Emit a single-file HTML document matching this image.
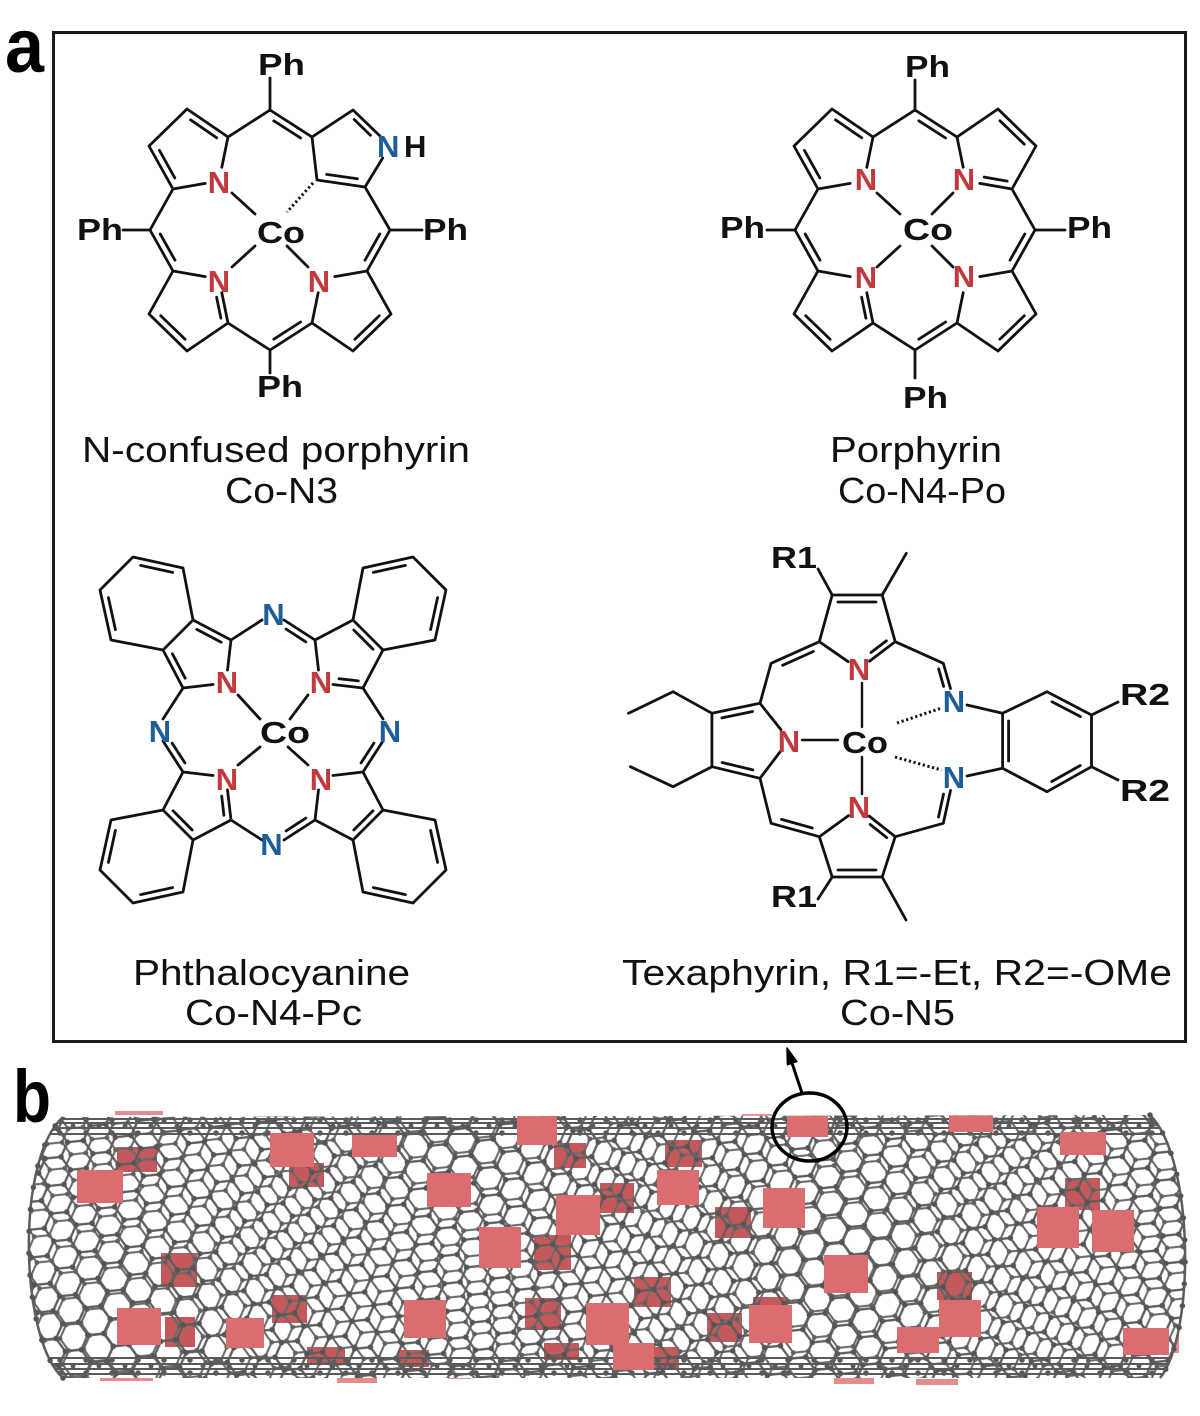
<!DOCTYPE html>
<html>
<head>
<meta charset="utf-8">
<style>
html,body{margin:0;padding:0;background:#fff;}
svg{display:block;}
.b{stroke:#111;stroke-width:2.8;fill:none;stroke-linecap:round;stroke-linejoin:round}
.lb{font-family:"Liberation Sans",Arial,sans-serif;font-weight:bold;font-size:31px;fill:#111}
.r{fill:#c1393d}
.u{fill:#1b5e9a}
.cap{font-family:"Liberation Sans",Arial,sans-serif;font-size:36px;fill:#111}
</style>
</head>
<body>
<svg xmlns="http://www.w3.org/2000/svg" xmlns:xlink="http://www.w3.org/1999/xlink" width="1200" height="1416" viewBox="0 0 1200 1416">
<defs>
  <pattern id="hA" width="27.7" height="48" patternUnits="userSpaceOnUse" patternTransform="rotate(24)">
    <path d="M0,8 L13.86,0 L27.7,8 M0,8 V24 M27.7,8 V24 M0,24 L13.86,32 L27.7,24 M13.86,32 V48" stroke="#5e5e5e" stroke-width="2.4" fill="none"/>
    <g fill="#555"><circle cx="0" cy="8" r="2.8"/><circle cx="13.86" cy="0" r="2.8"/><circle cx="27.7" cy="8" r="2.8"/><circle cx="0" cy="24" r="2.8"/><circle cx="27.7" cy="24" r="2.8"/><circle cx="13.86" cy="32" r="2.8"/><circle cx="13.86" cy="48" r="2.8"/></g>
  </pattern>
  <pattern id="hB" width="26" height="45" patternUnits="userSpaceOnUse" patternTransform="translate(7,5) rotate(-36)">
    <path d="M0,7.5 L13,0 L26,7.5 M0,7.5 V22.5 M26,7.5 V22.5 M0,22.5 L13,30 L26,22.5 M13,30 V45" stroke="#6a6a6a" stroke-width="2.1" fill="none"/>
    <g fill="#606060"><circle cx="0" cy="7.5" r="2.4"/><circle cx="13" cy="0" r="2.4"/><circle cx="26" cy="7.5" r="2.4"/><circle cx="0" cy="22.5" r="2.4"/><circle cx="26" cy="22.5" r="2.4"/><circle cx="13" cy="30" r="2.4"/><circle cx="13" cy="45" r="2.4"/></g>
  </pattern>
  <clipPath id="tube">
    <path d="M63,1117 L1150,1115 C1195,1160 1195,1335 1160,1378 L63,1378 C20,1340 15,1160 63,1117 Z"/>
  </clipPath>
  <g id="pcu">
    <path d="M-11,-110 L-42,-90 L-80,-110 L-110,-80 L-90,-42 L-110,-11 M-80,-110 L-90,-162 L-140,-173 L-173,-140 L-162,-90 L-110,-80 M-42,-90 L-45.5,-59.9 M-90,-42 L-59.9,-45.5"/>
  </g>
</defs>

<!-- Panel labels and frame -->
<text x="5" y="72" font-family="Liberation Sans, Arial, sans-serif" font-weight="bold" font-size="76" fill="#000" textLength="39" lengthAdjust="spacingAndGlyphs">a</text>
<text x="13" y="1122" font-family="Liberation Sans, Arial, sans-serif" font-weight="bold" font-size="74" fill="#000" textLength="38" lengthAdjust="spacingAndGlyphs">b</text>
<rect x="53.5" y="32.5" width="1132" height="1009" fill="none" stroke="#1a1a1a" stroke-width="3"/>

<!-- Structure 1: N-confused porphyrin -->
<g transform="translate(270,230)" class="b">
  <path d="M0,-120 L-42,-93 L-83,-121 L-121,-84 L-97,-41 L-120,0 L-97,41 L-121,84 L-83,121 L-42,93 L0,120 L42,93 L83,121 L121,84 L97,41 L120,0 L95,-43 L47,-50 L42,-93 Z"/>
  <path d="M42,-93 L83,-120 L110,-94 M112.7,-72 L95,-43"/>
  <path d="M-42,-93 L-48.2,-62.7 M-97,-41 L-64.8,-46.6 M-97,41 L-64.8,46.6 M-42,93 L-48.2,62.7 M97,41 L64.8,46.6 M42,93 L48.2,62.7"/>
  <path d="M-38,-37 L-15,-16 M-38,37 L-15,16 M38,37 L17,16"/>
  <path d="M0,-152 L0,-120 M-147,0 L-120,0 M120,0 L152,0 M0,120 L0,143"/>
  <path d="M3.8,-109.2 L30.6,-92 M-53.3,-92.2 L-79.5,-110.2 M-110.6,-79.7 L-95.2,-52.1 M-95,30.2 L-109.8,4 M-84.9,109.3 L-109.3,85.7 M-53.4,67.2 L-49.1,88.2 M30.6,92 L3.8,109.2 M109.3,85.7 L84.9,109.3 M109.8,4 L95,30.2 M84.2,-110.5 L100.4,-94.7 M87.4,-51.2 L56.6,-55.6"/>
  <path d="M43,-47 L17,-18" stroke-dasharray="2.2 2.6" stroke-width="3" stroke-linecap="butt"/>
</g>
<text class="lb r" x="219" y="193" text-anchor="middle">N</text>
<text class="lb r" x="219" y="292" text-anchor="middle">N</text>
<text class="lb r" x="319" y="292" text-anchor="middle">N</text>
<text class="lb u" x="377" y="157">N</text>
<text class="lb" x="404" y="157">H</text>
<text class="lb" x="257" y="243" textLength="48" lengthAdjust="spacingAndGlyphs">Co</text>
<text class="lb" x="258" y="75" textLength="47" lengthAdjust="spacingAndGlyphs">Ph</text>
<text class="lb" x="77" y="240" textLength="46" lengthAdjust="spacingAndGlyphs">Ph</text>
<text class="lb" x="423" y="240" textLength="45" lengthAdjust="spacingAndGlyphs">Ph</text>
<text class="lb" x="257" y="397" textLength="46" lengthAdjust="spacingAndGlyphs">Ph</text>
<text class="cap" x="82" y="462" textLength="388" lengthAdjust="spacingAndGlyphs">N-confused porphyrin</text>
<text class="cap" x="225" y="503" textLength="113" lengthAdjust="spacingAndGlyphs">Co-N3</text>

<!-- Structure 2: Porphyrin -->
<g transform="translate(915,230)" class="b">
  <path d="M0,-120 L-42,-93 L-83,-121 L-121,-84 L-97,-41 L-120,0 L-97,41 L-121,84 L-83,121 L-42,93 L0,120 L42,93 L83,121 L121,84 L97,41 L120,0 L97,-41 L121,-84 L83,-121 L42,-93 Z"/>
  <path d="M-42,-93 L-48.2,-62.7 M-97,-41 L-64.8,-46.6 M-97,41 L-64.8,46.6 M-42,93 L-48.2,62.7 M97,41 L64.8,46.6 M42,93 L48.2,62.7 M42,-93 L48.2,-62.7 M97,-41 L64.8,-46.6"/>
  <path d="M-38,-37 L-15,-16 M38,-37 L17,-16 M-38,37 L-15,16 M38,37 L17,16"/>
  <path d="M0,-150 L0,-120 M-148,0 L-120,0 M120,0 L150,0 M0,120 L0,148"/>
  <path d="M3.8,-109.2 L30.6,-92 M-53.3,-92.2 L-79.5,-110.2 M-110.6,-79.7 L-95.2,-52.1 M84.9,-109.3 L109.3,-85.7 M69.2,-52.9 L92.2,-48.9 M109.8,4 L95,30.2 M109.3,85.7 L84.9,109.3 M30.6,92 L3.8,109.2 M-53.4,67.2 L-49.1,88.2 M-84.9,109.3 L-109.3,85.7 M-95,30.2 L-109.8,4"/>
</g>
<text class="lb r" x="866" y="190" text-anchor="middle">N</text>
<text class="lb r" x="964" y="190" text-anchor="middle">N</text>
<text class="lb r" x="866" y="288" text-anchor="middle">N</text>
<text class="lb r" x="964" y="287" text-anchor="middle">N</text>
<text class="lb" x="903" y="240" textLength="50" lengthAdjust="spacingAndGlyphs">Co</text>
<text class="lb" x="905" y="77" textLength="45" lengthAdjust="spacingAndGlyphs">Ph</text>
<text class="lb" x="720" y="238" textLength="45" lengthAdjust="spacingAndGlyphs">Ph</text>
<text class="lb" x="1067" y="238" textLength="45" lengthAdjust="spacingAndGlyphs">Ph</text>
<text class="lb" x="903" y="408" textLength="45" lengthAdjust="spacingAndGlyphs">Ph</text>
<text class="cap" x="830" y="462" textLength="172" lengthAdjust="spacingAndGlyphs">Porphyrin</text>
<text class="cap" x="838" y="503" textLength="168" lengthAdjust="spacingAndGlyphs">Co-N4-Po</text>

<!-- Structure 3: Phthalocyanine -->
<g transform="translate(273,730)" class="b">
  <use href="#pcu" xlink:href="#pcu"/>
  <use href="#pcu" xlink:href="#pcu" transform="rotate(90)"/>
  <use href="#pcu" xlink:href="#pcu" transform="rotate(180)"/>
  <use href="#pcu" xlink:href="#pcu" transform="rotate(270)"/>
  <path d="M-35,-35 L-13,-11 M35,-35 L17,-11 M-35,35 L-13,17 M35,35 L15,17"/>
  <path d="M-51.8,-87.8 L-76.2,-100.6 M-87.8,-51.8 L-100.6,-76.2 M-157.6,-100.4 L-164.6,-132.4 M-100.4,-157.6 L-132.4,-164.6"/>
  <path d="M100.4,-157.6 L132.4,-164.6 M157.6,-100.4 L164.6,-132.4 M100,-80.8 L80.8,-100 M32.9,-88.1 L13.1,-100.9 M66,-51.3 L85.3,-49.1"/>
  <path d="M157.6,100.4 L164.6,132.4 M100.4,157.6 L132.4,164.6 M80.8,100 L100,80.8 M88.1,32.9 L100.9,13.1 M32.9,88.1 L13.1,100.9"/>
  <path d="M-100.4,157.6 L-132.4,164.6 M-157.6,100.4 L-164.6,132.4 M-100,80.8 L-80.8,100 M-88.1,32.9 L-100.9,13.1 M-51.3,66 L-49.1,85.3"/>
</g>
<text class="lb r" x="227" y="693" text-anchor="middle">N</text>
<text class="lb r" x="321" y="693" text-anchor="middle">N</text>
<text class="lb r" x="227" y="790" text-anchor="middle">N</text>
<text class="lb r" x="321" y="790" text-anchor="middle">N</text>
<text class="lb u" x="273.5" y="625" text-anchor="middle">N</text>
<text class="lb u" x="160" y="742" text-anchor="middle">N</text>
<text class="lb u" x="390" y="742" text-anchor="middle">N</text>
<text class="lb u" x="271.5" y="855" text-anchor="middle">N</text>
<text class="lb" x="260" y="743" textLength="50" lengthAdjust="spacingAndGlyphs">Co</text>
<text class="cap" x="133" y="985" textLength="277" lengthAdjust="spacingAndGlyphs">Phthalocyanine</text>
<text class="cap" x="185" y="1025" textLength="177" lengthAdjust="spacingAndGlyphs">Co-N4-Pc</text>

<!-- Structure 4: Texaphyrin -->
<g class="b">
  <path d="M848.2,661.7 L819.3,641.7 L832.2,595 L882.2,595 L895.2,641.7 L869.4,661.2"/>
  <path d="M832.2,595 L818,569 M882.2,595 L906.3,553.3"/>
  <path d="M819.3,641.7 L771.1,663.3 L760,703.3"/>
  <path d="M781,729.8 L760,703.3 L711.9,713.3 L711.9,766.7 L760,778.3 L781.2,750.4"/>
  <path d="M711.9,713.3 L673,691.7 L628.5,713.3 M711.9,766.7 L673,786.7 L630.4,766.7"/>
  <path d="M760,778.3 L771.1,823.3 L819.3,836.7"/>
  <path d="M848.5,815.6 L819.3,836.7 L832.2,877 L882.2,877 L895.2,836.7 L869.2,816.1"/>
  <path d="M832.2,877 L818,899 M882.2,877 L906,920"/>
  <path d="M895.2,641.7 L943.3,663.3 L950.5,688.5 M895.2,836.7 L943.3,823.3 L950.5,790.5"/>
  <path d="M967,705 L1002.6,713.3 M967,776 L1002.6,768.3"/>
  <path d="M1002.6,713.3 L1047,691.7 L1091.5,715 L1091.5,766.7 L1047,791.7 L1002.6,768.3 Z"/>
  <path d="M1091.5,715 L1118,702 M1091.5,766.7 L1118,780"/>
  <path d="M802,740 L838,740 M862,683 L862,727 M862,757 L862,794" stroke-width="2.4"/>
  <path d="M897,723 L941.5,708 M895,757 L941.5,770" stroke-dasharray="2.2 2.6" stroke-width="3" stroke-linecap="butt"/>
  <path d="M838,602 L876,602 M871,652.5 L886.4,640.8 M813.3,651.5 L782.6,665.3 M752.6,711.5 L721.9,717.9 M722.1,762.5 L752.8,769.9 M781.5,819.4 L812.3,828 M838,870 L876,870 M870.2,824.5 L886.8,837.7 M938.6,668.8 L943.6,686.4 M938.5,817.1 L943.5,794.1 M1008.6,721 L1008.6,761 M1052,701.7 L1080.5,716.6 M1080.3,765.5 L1051.8,781.5"/>
</g>
<text class="lb r" x="859" y="680" text-anchor="middle">N</text>
<text class="lb r" x="859" y="818" text-anchor="middle">N</text>
<text class="lb r" x="789" y="752" text-anchor="middle">N</text>
<text class="lb u" x="954" y="712" text-anchor="middle">N</text>
<text class="lb u" x="954" y="788" text-anchor="middle">N</text>
<text class="lb" x="842" y="753" textLength="46" lengthAdjust="spacingAndGlyphs">Co</text>
<text class="lb" x="771" y="568" textLength="46" lengthAdjust="spacingAndGlyphs">R1</text>
<text class="lb" x="771" y="907" textLength="46" lengthAdjust="spacingAndGlyphs">R1</text>
<text class="lb" x="1120" y="705" textLength="50" lengthAdjust="spacingAndGlyphs">R2</text>
<text class="lb" x="1120" y="801" textLength="50" lengthAdjust="spacingAndGlyphs">R2</text>
<text class="cap" x="622" y="985" textLength="550" lengthAdjust="spacingAndGlyphs">Texaphyrin, R1=-Et, R2=-OMe</text>
<text class="cap" x="840" y="1025" textLength="115" lengthAdjust="spacingAndGlyphs">Co-N5</text>

<!-- Panel b: nanotube -->
<g fill="#e58d8e">
  <rect x="115" y="1111" width="48" height="4"/><rect x="257" y="1116" width="38" height="5"/>
  <rect x="100" y="1376" width="53" height="5"/><rect x="337" y="1378" width="40" height="5"/>
  <rect x="448" y="1375" width="23" height="4"/><rect x="834" y="1378" width="40" height="6"/>
  <rect x="916" y="1379" width="42" height="6"/><rect x="742" y="1114" width="30" height="4"/>
  <rect x="1171" y="1330" width="8" height="23"/>
</g>
<g clip-path="url(#tube)">
  <rect x="0" y="1100" width="1200" height="300" fill="#fff"/>
  <g fill="#c5585b">
    <rect x="117" y="1147" width="40" height="25"/><rect x="289" y="1163" width="35" height="24"/>
    <rect x="554" y="1143" width="32" height="25"/><rect x="534" y="1235" width="37" height="35"/>
    <rect x="161" y="1253" width="36" height="34"/><rect x="165" y="1317" width="30" height="30"/>
    <rect x="272" y="1295" width="35" height="28"/><rect x="525" y="1298" width="36" height="32"/>
    <rect x="307" y="1347" width="38" height="16"/><rect x="398" y="1350" width="31" height="17"/>
    <rect x="544" y="1343" width="35" height="17"/><rect x="665" y="1140" width="37" height="27"/>
    <rect x="600" y="1183" width="34" height="30"/><rect x="715" y="1207" width="36" height="31"/>
    <rect x="1065" y="1178" width="35" height="32"/><rect x="634" y="1277" width="37" height="30"/>
    <rect x="654" y="1347" width="25" height="21"/><rect x="707" y="1313" width="35" height="29"/>
    <rect x="937" y="1272" width="35" height="28"/><rect x="753" y="1297" width="35" height="10"/>
  </g>
  <rect x="0" y="1100" width="1200" height="300" fill="url(#hB)"/>
  <rect x="0" y="1100" width="1200" height="300" fill="url(#hA)"/>
  <g stroke="#5a5a5a" fill="none">
    <path d="M40,1119 H1170 M40,1123 H1170 M40,1128 H1170 M40,1134 H1170 M40,1358 H1170 M40,1364 H1170 M40,1369 H1170 M40,1374 H1170" stroke-width="2"/>
    <path d="M60,1120 H1160 M60,1133 H1160 M60,1360 H1160 M60,1373 H1160" stroke-width="5.5" stroke-linecap="round" stroke-dasharray="0 26"/>
    <path d="M73,1126 H1160 M73,1366 H1160" stroke-width="5" stroke-linecap="round" stroke-dasharray="0 26"/>
  </g>
  <g fill="#dc6d6f">
    <rect x="77" y="1170" width="46" height="33"/><rect x="270" y="1133" width="44" height="34"/>
    <rect x="352" y="1135" width="45" height="22"/><rect x="427" y="1173" width="44" height="34"/>
    <rect x="517" y="1110" width="40" height="35"/><rect x="556" y="1195" width="44" height="40"/>
    <rect x="479" y="1227" width="42" height="41"/><rect x="117" y="1308" width="44" height="37"/>
    <rect x="226" y="1318" width="38" height="30"/><rect x="404" y="1300" width="42" height="38"/>
    <rect x="586" y="1303" width="43" height="42"/><rect x="657" y="1170" width="42" height="35"/>
    <rect x="763" y="1188" width="42" height="40"/><rect x="787" y="1115" width="41" height="22"/>
    <rect x="949" y="1112" width="44" height="20"/><rect x="1060" y="1132" width="46" height="23"/>
    <rect x="1037" y="1207" width="42" height="41"/><rect x="1092" y="1210" width="42" height="42"/>
    <rect x="824" y="1255" width="44" height="38"/><rect x="613" y="1343" width="41" height="27"/>
    <rect x="749" y="1305" width="43" height="38"/><rect x="897" y="1327" width="42" height="26"/>
    <rect x="939" y="1300" width="42" height="37"/><rect x="1123" y="1328" width="46" height="27"/>
  </g>
</g>
<path d="M63,1378 C20,1340 15,1160 63,1117 M1150,1115 C1195,1160 1195,1335 1160,1378" fill="none" stroke="#5c5c5c" stroke-width="2.5"/>
<path d="M63,1378 C20,1340 15,1160 63,1117 M1150,1115 C1195,1160 1195,1335 1160,1378" fill="none" stroke="#555" stroke-width="5.5" stroke-linecap="round" stroke-dasharray="0 22"/>

<!-- circle and arrow -->
<ellipse cx="809.5" cy="1127" rx="37.5" ry="34" fill="none" stroke="#000" stroke-width="3.5"/>
<path d="M802,1093 L792,1063" stroke="#000" stroke-width="3" fill="none"/>
<path d="M787,1048 L796.8,1061.6 L787.4,1064.8 Z" fill="#000" stroke="#000" stroke-width="1.5" stroke-linejoin="round"/>
</svg>
</body>
</html>
